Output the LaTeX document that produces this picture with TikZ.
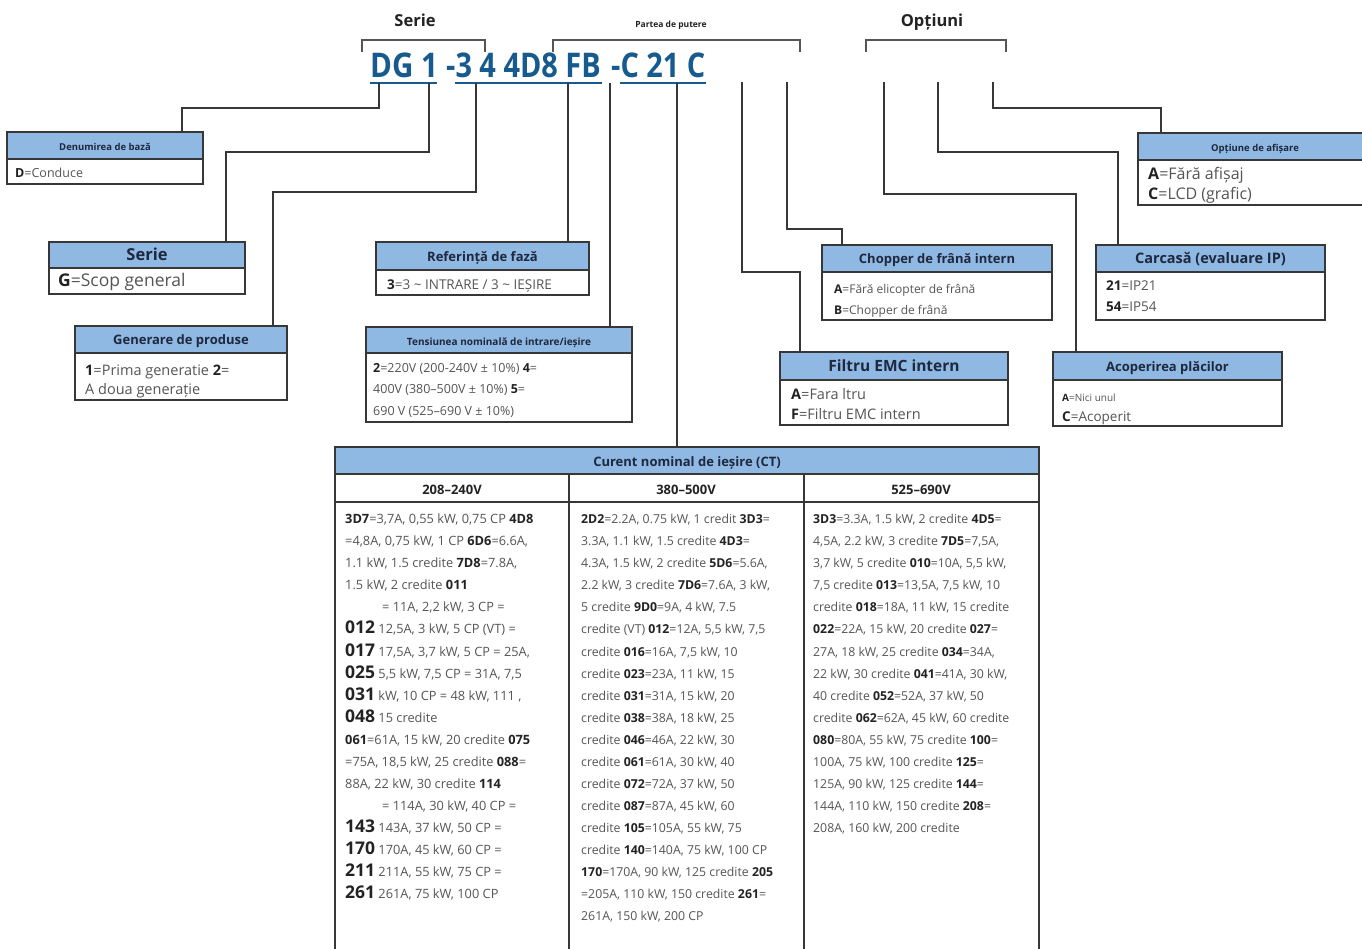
\documentclass[tikz,border=0pt]{standalone}
\usepackage{graphicx}
\usepackage{fontspec}
\setmainfont{Open Sans}
\usetikzlibrary{fit}
\definecolor{hdrblue}{RGB}{143,184,226}
\definecolor{codeblue}{RGB}{22,90,142}
\definecolor{ink}{RGB}{35,35,35}
\definecolor{bodygray}{RGB}{85,85,85}
\definecolor{hdrink}{RGB}{30,40,62}
\definecolor{linegray}{RGB}{55,55,55}
\newcommand{\fsz}[1]{\fontsize{#1}{#1}\selectfont}
\newcommand{\kb}[1]{{\bfseries\color{ink}#1}}
\newcommand{\kL}[1]{{\fsz{17.5}\bfseries\color{ink}#1}}
\newcommand{\infobox}[7]{%
  \fill[hdrblue] (#2,#3) rectangle (#4,#5);
  \path (#2,#3) coordinate (#1nw) (#4,#6) coordinate (#1se);
  \node[boxnode, fit=(#1nw)(#1se)] (#1) {};
  \draw[boxline] (#2,#5) -- (#4,#5);
  \node[htxt] (#1h) at ({(#2+#4)/2},{(#3+#5)/2}) {#7};
}
\begin{document}
\begin{tikzpicture}[x=1pt,y=-1pt,
  conn/.style={draw=linegray, line width=1.5pt},
  boxline/.style={draw=linegray, line width=1.1pt},
  boxnode/.style={draw=linegray, line width=1.1pt, inner sep=0pt, rectangle},
  uline/.style={draw=codeblue, line width=2.4pt},
  brk/.style={draw=linegray!85, line width=1.2pt},
  htxt/.style={inner sep=0pt, font=\bfseries, text=hdrink, anchor=mid, yshift=-2.5pt},
  btxt/.style={inner sep=0pt, text=bodygray, anchor=mid west, yshift=-3pt},
  lbl/.style={inner sep=0pt, text=ink, anchor=mid, yshift=-3pt},
  code/.style={inner sep=0pt, text=codeblue, anchor=base west, font=\fsz{34}\bfseries},
]
\useasboundingbox (0,0) rectangle (1362,949);
\fill[white] (0,0) rectangle (1362,949);

% top labels and brackets
\node[lbl, font=\bfseries\fsz{16.5}] (lserie) at (415,21) {Serie};
\node[lbl, font=\bfseries\fsz{8.5}] (lput) at (671,22) {Partea de putere};
\node[lbl, font=\bfseries\fsz{16.5}] (lopt) at (932,21) {Opțiuni};
\draw[brk] (362,52) |- (485,40) -- (485,52);
\draw[brk] (553,52) |- (800,40) -- (800,52);
\draw[brk] (866,52) |- (1006,40) -- (1006,52);

% code
\node[code] (codeA) at (370,78) {\scalebox{0.87}[1]{DG 1}};
\node[code] (codeB) at (446,78) {\scalebox{0.85}[1]{-3 4 4D8 FB}};
\node[code] (codeC) at (611,78) {\scalebox{0.85}[1]{-C 21 C}};
\draw[uline] (370,83) -- (437,83);
\draw[uline] (455,83) -- (602,83);
\draw[uline] (620,83) -- (706,83);

\coordinate (pD) at (379,83);
\coordinate (pG) at (429,83);
\coordinate (pGen) at (476,83);
\coordinate (pRef) at (568,83);
\coordinate (pTen) at (610,83);
\coordinate (pCT) at (677,83);
\coordinate (pFil) at (742,82);
\coordinate (pCho) at (787,82);
\coordinate (pAco) at (884,82);
\coordinate (pCar) at (938,82);
\coordinate (pOpt) at (993,82);

% boxes
\infobox{den}{7}{132}{203}{159}{184}{\fsz{9.5}Denumirea de bază}
\node[btxt, font=\fsz{12.5}] (den1) at (15,172) {\kb{D}=Conduce};
\infobox{ser}{49}{242}{245}{268}{294}{\fsz{16.5}Serie}
\node[btxt, font=\fsz{17.5}] (ser1) at (58,281) {\kb{G}=Scop general};
\infobox{gen}{75}{326}{287}{353}{400}{\fsz{13}Generare de produse}
\node[btxt, font=\fsz{14.5}] (gen1) at (85,370) {\kb{1}=Prima generatie \kb{2}=};
\node[btxt, font=\fsz{14.5}] (gen2) at (85,389) {A doua generație};
\infobox{ref}{376}{242}{589}{270}{295}{\fsz{13}Referință de fază}
\node[btxt, font=\fsz{13.5}] (ref1) at (387,284) {\kb{3}=3 \textasciitilde{} INTRARE / 3 \textasciitilde{} IEȘIRE};
\infobox{ten}{366}{327}{632}{353}{422}{\fsz{10}Tensiunea nominală de intrare/ieșire}
\node[btxt, font=\fsz{12.5}] (ten1) at (373,367) {\kb{2}=220V (200-240V ± 10\%) \kb{4}=};
\node[btxt, font=\fsz{12.5}] (ten2) at (373,388) {400V (380–500V ± 10\%) \kb{5}=};
\node[btxt, font=\fsz{12.5}] (ten3) at (373,410) {690 V (525–690 V ± 10\%)};
\infobox{cho}{822}{245}{1052}{272}{320}{\fsz{13}Chopper de frână intern}
\node[btxt, font=\fsz{12}] (cho1) at (834,288) {\kb{A}=Fără elicopter de frână};
\node[btxt, font=\fsz{12}] (cho2) at (834,309) {\kb{B}=Chopper de frână};
\infobox{fil}{780}{352}{1008}{380}{425}{\fsz{15.5}Filtru EMC intern}
\node[btxt, font=\fsz{14.5}] (fil1) at (791,394) {\kb{A}=Fara ltru};
\node[btxt, font=\fsz{14.5}] (fil2) at (791,414) {\kb{F}=Filtru EMC intern};
\infobox{opt}{1138}{133}{1372}{160}{205}{\fsz{9.5}Opțiune de afișare}
\node[btxt, font=\fsz{16}] (opt1) at (1148,174) {\kb{A}=Fără afișaj};
\node[btxt, font=\fsz{16}] (opt2) at (1148,194) {\kb{C}=LCD (grafic)};
\infobox{car}{1096}{245}{1325}{272}{320}{\fsz{14.5}Carcasă (evaluare IP)}
\node[btxt, font=\fsz{13.5}] (car1) at (1106,285) {\kb{21}=IP21};
\node[btxt, font=\fsz{13.5}] (car2) at (1106,306) {\kb{54}=IP54};
\infobox{aco}{1053}{352}{1282}{380}{426}{\fsz{13}Acoperirea plăcilor}
\node[btxt, font=\fsz{10}] (aco1) at (1062,396) {\kb{A}=Nici unul};
\node[btxt, font=\fsz{13.5}] (aco2) at (1062,416) {\kb{C}=Acoperit};

% table
\fill[hdrblue] (335,447) rectangle (1039,474);
\path (335,447) coordinate (tnw) (1039,960) coordinate (tse);
\node[boxnode, fit=(tnw)(tse)] (tbl) {};
\draw[boxline] (335,474) -- (1039,474);
\draw[boxline] (335,502) -- (1039,502);
\draw[boxline] (569,474) -- (569,960);
\draw[boxline] (804,474) -- (804,960);
\node[htxt, font=\bfseries\fsz{13}] (tblh) at (687,461) {Curent nominal de ieșire (CT)};
\node[htxt, font=\bfseries\fsz{13}, text=ink] (sub1) at (452,489) {208–240V};
\node[htxt, font=\bfseries\fsz{13}, text=ink] (sub2) at (686,489) {380–500V};
\node[htxt, font=\bfseries\fsz{13}, text=ink] (sub3) at (921,489) {525–690V};

\foreach \lineT [count=\i from 0] in {
 {\kb{3D7}=3,7A, 0,55 kW, 0,75 CP \kb{4D8}},
 {=4,8A, 0,75 kW, 1 CP \kb{6D6}=6.6A,},
 {1.1 kW, 1.5 credite \kb{7D8}=7.8A,},
 {1.5 kW, 2 credite \kb{011}},
 {\hspace*{37pt}= 11A, 2,2 kW, 3 CP =},
 {\kL{012} 12,5A, 3 kW, 5 CP (VT) =},
 {\kL{017} 17,5A, 3,7 kW, 5 CP = 25A,},
 {\kL{025} 5,5 kW, 7,5 CP = 31A, 7,5},
 {\kL{031} kW, 10 CP = 48 kW, 111 ,},
 {\kL{048} 15 credite},
 {\kb{061}=61A, 15 kW, 20 credite \kb{075}},
 {=75A, 18,5 kW, 25 credite \kb{088}=},
 {88A, 22 kW, 30 credite \kb{114}},
 {\hspace*{37pt}= 114A, 30 kW, 40 CP =},
 {\kL{143} 143A, 37 kW, 50 CP =},
 {\kL{170} 170A, 45 kW, 60 CP =},
 {\kL{211} 211A, 55 kW, 75 CP =},
 {\kL{261} 261A, 75 kW, 100 CP}}
 {\node[btxt, font=\fsz{12.8}] (ca\i) at (345,{518+22.06*\i}) {\lineT};}

\foreach \lineT [count=\i from 0] in {
 {\kb{2D2}=2.2A, 0.75 kW, 1 credit \kb{3D3}=},
 {3.3A, 1.1 kW, 1.5 credite \kb{4D3}=},
 {4.3A, 1.5 kW, 2 credite \kb{5D6}=5.6A,},
 {2.2 kW, 3 credite \kb{7D6}=7.6A, 3 kW,},
 {5 credite \kb{9D0}=9A, 4 kW, 7.5},
 {credite (VT) \kb{012}=12A, 5,5 kW, 7,5},
 {credite \kb{016}=16A, 7,5 kW, 10},
 {credite \kb{023}=23A, 11 kW, 15},
 {credite \kb{031}=31A, 15 kW, 20},
 {credite \kb{038}=38A, 18 kW, 25},
 {credite \kb{046}=46A, 22 kW, 30},
 {credite \kb{061}=61A, 30 kW, 40},
 {credite \kb{072}=72A, 37 kW, 50},
 {credite \kb{087}=87A, 45 kW, 60},
 {credite \kb{105}=105A, 55 kW, 75},
 {credite \kb{140}=140A, 75 kW, 100 CP},
 {\kb{170}=170A, 90 kW, 125 credite \kb{205}},
 {=205A, 110 kW, 150 credite \kb{261}=},
 {261A, 150 kW, 200 CP}}
 {\node[btxt, font=\fsz{12.3}] (cb\i) at (581,{518+22.06*\i}) {\lineT};}

\foreach \lineT [count=\i from 0] in {
 {\kb{3D3}=3.3A, 1.5 kW, 2 credite \kb{4D5}=},
 {4,5A, 2.2 kW, 3 credite \kb{7D5}=7,5A,},
 {3,7 kW, 5 credite \kb{010}=10A, 5,5 kW,},
 {7,5 credite \kb{013}=13,5A, 7,5 kW, 10},
 {credite \kb{018}=18A, 11 kW, 15 credite},
 {\kb{022}=22A, 15 kW, 20 credite \kb{027}=},
 {27A, 18 kW, 25 credite \kb{034}=34A,},
 {22 kW, 30 credite \kb{041}=41A, 30 kW,},
 {40 credite \kb{052}=52A, 37 kW, 50},
 {credite \kb{062}=62A, 45 kW, 60 credite},
 {\kb{080}=80A, 55 kW, 75 credite \kb{100}=},
 {100A, 75 kW, 100 credite \kb{125}=},
 {125A, 90 kW, 125 credite \kb{144}=},
 {144A, 110 kW, 150 credite \kb{208}=},
 {208A, 160 kW, 200 credite}}
 {\node[btxt, font=\fsz{12.3}] (cc\i) at (813,{518+22.06*\i}) {\lineT};}

% connectors
\draw[conn] (pD) |- (182,108) -- (182,0 |- den.north);
\draw[conn] (pG) |- (226,152) -- (226,0 |- ser.north);
\draw[conn] (pGen) |- (273,192) -- (273,0 |- gen.north);
\draw[conn] (pRef) -- (pRef |- ref.north);
\draw[conn] (pTen) -- (pTen |- ten.north);
\draw[conn] (pCT) -- (pCT |- tbl.north);
\draw[conn] (pFil) |- (800,272) -- (800,0 |- fil.north);
\draw[conn] (pCho) |- (842,229) -- (842,0 |- cho.north);
\draw[conn] (pAco) |- (1076,194) -- (1076,0 |- aco.north);
\draw[conn] (pCar) |- (1118,152) -- (1118,0 |- car.north);
\draw[conn] (pOpt) |- (1161,108) -- (1161,0 |- opt.north);
\end{tikzpicture}
\end{document}
